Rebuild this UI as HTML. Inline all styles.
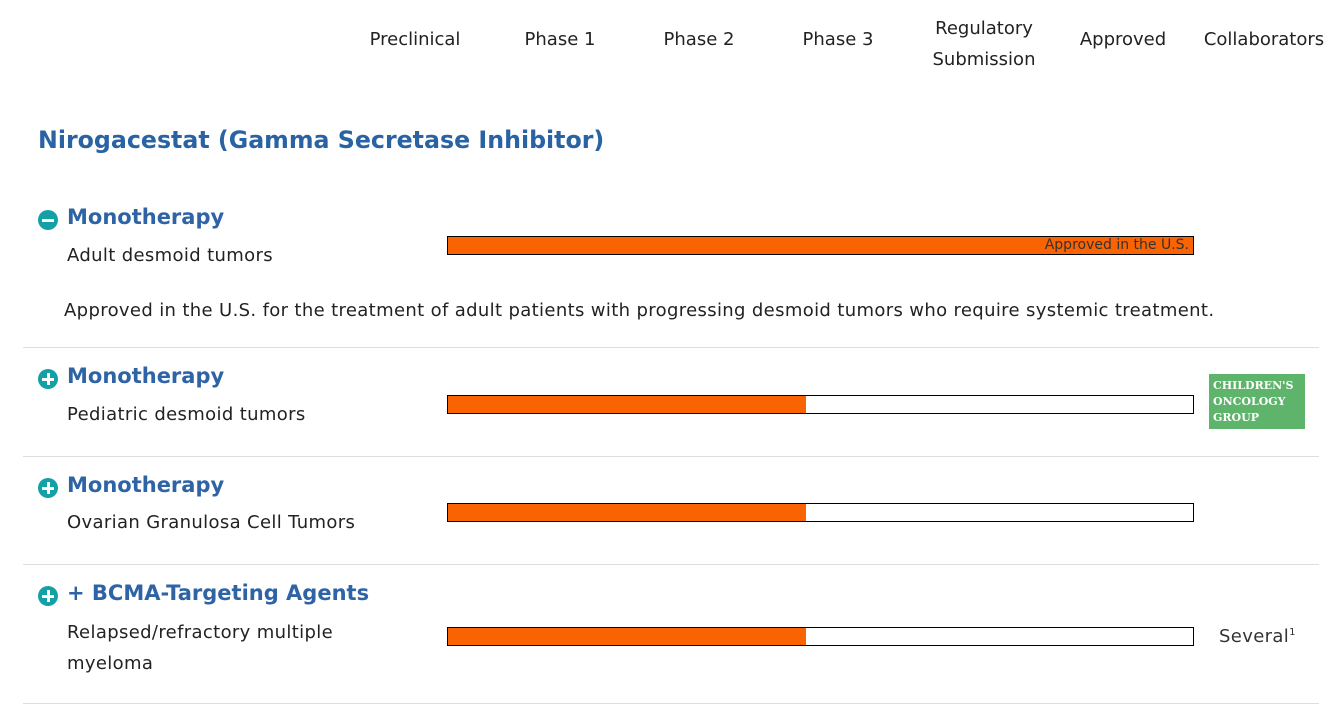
<!DOCTYPE html>
<html><head><style>
body{margin:0;width:1341px;height:714px;background:#fff;font-family:"DejaVu Sans",sans-serif;position:relative;overflow:hidden;color:#222}
.a{position:absolute;white-space:nowrap}
.h{font-size:18px;color:#222;text-align:center;transform:translateX(-50%)}
.t{font-size:23.7px;font-weight:bold;color:#2a63a3}
.m{font-size:21px;font-weight:bold;color:#2e63a6}
.b{font-size:18px;color:#222;letter-spacing:0.35px}
.ic{position:absolute;width:20px;height:20px;border-radius:50%;background:#14a0a8}
.ic:before{content:"";position:absolute;left:4px;top:8.5px;width:12px;height:3px;background:#fff}
.p:after{content:"";position:absolute;left:8.5px;top:4px;width:3px;height:12px;background:#fff}
.bar{position:absolute;left:447px;width:745px;height:17px;border:1px solid #000;background:#fff}
.bar i{position:absolute;left:0;top:0;height:17px;background:#f96302}
.ln{position:absolute;left:23px;width:1296px;height:1px;background:#ddd}
</style></head><body>
<div class="a h" style="left:415px;top:29px">Preclinical</div>
<div class="a h" style="left:560px;top:29px">Phase 1</div>
<div class="a h" style="left:699px;top:29px">Phase 2</div>
<div class="a h" style="left:838px;top:29px">Phase 3</div>
<div class="a h" style="left:984px;top:13px;line-height:31px">Regulatory<br>Submission</div>
<div class="a h" style="left:1123px;top:29px">Approved</div>
<div class="a h" style="left:1264px;top:29px">Collaborators</div>
<div class="a t" style="left:38px;top:126px">Nirogacestat (Gamma Secretase Inhibitor)</div>

<div class="ic" style="left:38px;top:210px"></div>
<div class="a m" style="left:67px;top:205px">Monotherapy</div>
<div class="a b" style="left:67px;top:245px">Adult desmoid tumors</div>
<div class="bar" style="top:236px"><i style="width:745px"></i><span class="a" style="right:4px;top:0;font-size:14px;line-height:17px;color:#333">Approved in the U.S.</span></div>
<div class="a b" style="left:64px;top:300px">Approved in the U.S. for the treatment of adult patients with progressing desmoid tumors who require systemic treatment.</div>
<div class="ln" style="top:347px"></div>

<div class="ic p" style="left:38px;top:369px"></div>
<div class="a m" style="left:67px;top:364px">Monotherapy</div>
<div class="a b" style="left:67px;top:404px">Pediatric desmoid tumors</div>
<div class="bar" style="top:395px"><i style="width:358px"></i></div>
<div class="a" style="left:1209px;top:374px;width:96px;height:55px;background:#5db46a;color:#fff;font-family:'DejaVu Serif',serif;font-weight:bold;font-size:11px;line-height:16px;padding:4px 0 0 4px;box-sizing:border-box;overflow:hidden">CHILDREN'S<br>ONCOLOGY<br>GROUP</div>
<div class="ln" style="top:456px"></div>

<div class="ic p" style="left:38px;top:478px"></div>
<div class="a m" style="left:67px;top:473px">Monotherapy</div>
<div class="a b" style="left:67px;top:512px">Ovarian Granulosa Cell Tumors</div>
<div class="bar" style="top:503px"><i style="width:358px"></i></div>
<div class="ln" style="top:564px"></div>

<div class="ic p" style="left:38px;top:586px"></div>
<div class="a m" style="left:67px;top:581px">+ BCMA-Targeting Agents</div>
<div class="a b" style="left:67px;top:617px;line-height:31px">Relapsed/refractory multiple<br>myeloma</div>
<div class="bar" style="top:627px"><i style="width:358px"></i></div>
<div class="a b" style="left:1219px;top:626px;color:#333">Several<sup style="font-size:10px">1</sup></div>
<div class="ln" style="top:703px"></div>
</body></html>
